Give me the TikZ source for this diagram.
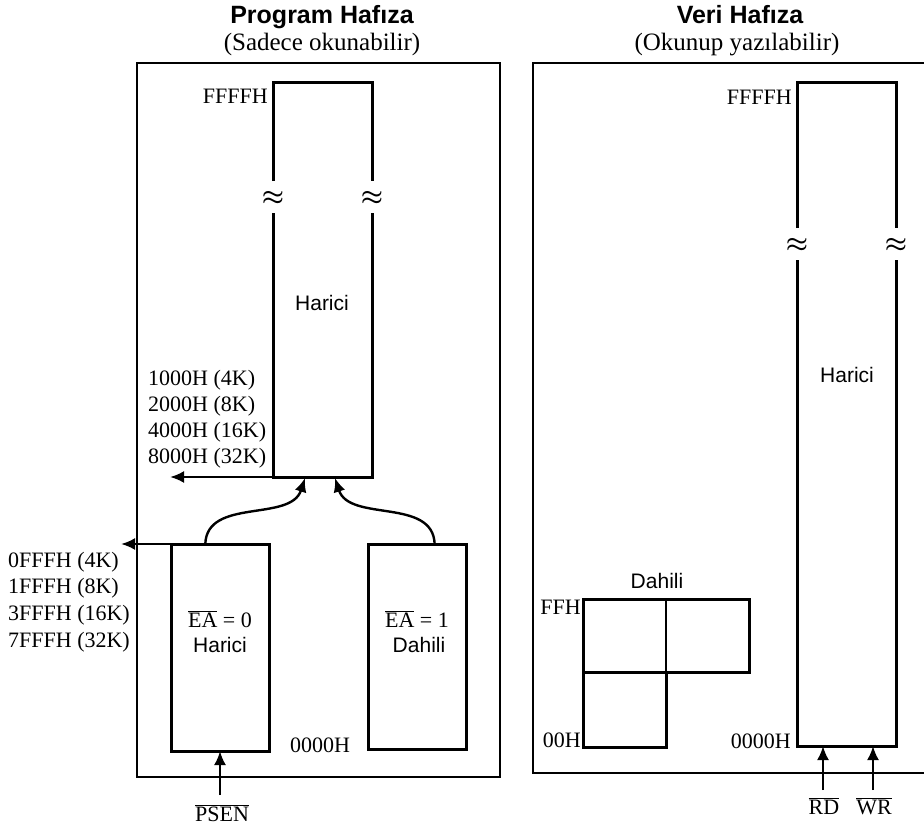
\documentclass[tikz,border=0pt]{standalone}
\usepackage{fontspec}
\setmainfont{Liberation Serif}
\newfontfamily\arialf{Liberation Sans}
\usetikzlibrary{arrows.meta,calc}
\newcommand\ovl[1]{$\overline{\hbox{#1}}$}
\begin{document}
\begin{tikzpicture}[x=1pt,y=-1pt,
  frame/.style={line width=1.4pt},
  membox/.style={draw,line width=3pt,inner sep=0pt,outer sep=0pt},
  memline/.style={line width=3pt},
  thinline/.style={line width=1.5pt},
  arr/.style={line width=2.4pt,-{Latex[length=14pt,width=12pt]}},
  ttl/.style={font=\arialf\bfseries\fontsize{25}{30}\selectfont,inner sep=0pt},
  subttl/.style={font=\fontsize{25}{30}\selectfont,inner sep=0pt},
  lbl/.style={font=\fontsize{22}{26}\selectfont,inner sep=0pt},
  slbl/.style={font=\arialf\fontsize{21}{25}\selectfont,inner sep=0pt},
  brk/.style={font=\fontsize{30}{30}\selectfont\boldmath,inner sep=0pt},
]
\useasboundingbox (0,0) rectangle (924,828);

% ---------- Program memory ----------
\node[ttl,anchor=base] (ptitle) at (322,23) {Program Hafıza};
\node[subttl,anchor=base] (psub) at (322,50) {(Sadece okunabilir)};
\draw[frame] (137,63) rectangle (500,777);

% upper external program memory (broken rectangle)
\coordinate (ptl) at (273,82);
\coordinate (ptr) at (372,82);
\coordinate (pbl) at (273,477);
\coordinate (pbr) at (372,477);
\coordinate (plb1) at (273,181);
\coordinate (prb1) at (372,181);
\coordinate (plb2) at (273,213);
\coordinate (prb2) at (372,213);
\draw[memline,line join=miter] (plb1) -- (ptl) -- (ptr) -- (prb1);
\draw[memline,line join=miter] (plb2) -- (pbl) -- (pbr) -- (prb2);
\node[brk] (pbrkL) at (273,198) {$\approx$};
\node[brk] (pbrkR) at (372,198) {$\approx$};
\node[lbl,anchor=base east] (pffff) at (268,103) {FFFFH};
\node[slbl,anchor=base] (pharici) at (322,310) {Harici};

\node[lbl,anchor=base west] (l1000) at (148,385) {1000H (4K)};
\node[lbl,anchor=base west] (l2000) at (148,411) {2000H (8K)};
\node[lbl,anchor=base west] (l4000) at (148,437) {4000H (16K)};
\node[lbl,anchor=base west] (l8000) at (148,463) {8000H (32K)};
\coordinate (tipA) at (170,477);
\draw[arr] (pbl) -- (tipA);

% lower boxes
\node[membox,minimum width=98pt,minimum height=207pt] (ea0) at (220,647.5) {};
\node[membox,minimum width=98pt,minimum height=205pt] (ea1) at (417,646.5) {};
\node[lbl,anchor=base] (ea0t) at (220,627) {\ovl{EA} = 0};
\node[slbl,anchor=base] (ea0h) at (220,652) {Harici};
\node[lbl,anchor=base] (ea1t) at (417,627) {\ovl{EA} = 1};
\node[slbl,anchor=base] (ea1d) at (419,652) {Dahili};
\node[lbl,anchor=base] (p0000) at (320,752) {0000H};

\coordinate (tipB) at (121,544);
\draw[arr] (ea0.north west) -- (tipB);
\node[lbl,anchor=base west] (l0fff) at (8,567) {0FFFH (4K)};
\node[lbl,anchor=base west] (l1fff) at (8,593) {1FFFH (8K)};
\node[lbl,anchor=base west] (l3fff) at (8,620) {3FFFH (16K)};
\node[lbl,anchor=base west] (l7fff) at (8,647) {7FFFH (32K)};

% curved selection arrows
\coordinate (c1s) at ($(ea0.north west)!0.35!(ea0.north east)$);
\coordinate (c1e) at (305,478);
\coordinate (c2s) at ($(ea1.north west)!0.68!(ea1.north east)$);
\coordinate (c2e) at (335,478);
\draw[arr] (c1s) to[out=88,in=-108] (c1e);
\draw[arr] (c2s) to[out=92,in=-72] (c2e);

% PSEN
\coordinate (psenT) at (220,795);
\draw[arr] (psenT) -- (ea0.south);
\node[lbl,anchor=base] (psen) at (222,821) {\ovl{PSEN}};

% ---------- Data memory ----------
\node[ttl,anchor=base] (dtitle) at (740,23) {Veri Hafıza};
\node[subttl,anchor=base] (dsub) at (737,50) {(Okunup yazılabilir)};
\draw[frame] (930,63) -- (533,63) -- (533,773) -- (930,773);

\coordinate (dtl) at (797,82);
\coordinate (dtr) at (896,82);
\coordinate (dbl) at (797,746);
\coordinate (dbr) at (896,746);
\coordinate (dlb1) at (797,228);
\coordinate (drb1) at (896,228);
\coordinate (dlb2) at (797,260);
\coordinate (drb2) at (896,260);
\draw[memline,line join=miter] (dlb1) -- (dtl) -- (dtr) -- (drb1);
\draw[memline,line join=miter] (dlb2) -- (dbl) -- (dbr) -- (drb2);
\node[brk] (dbrkL) at (797,245) {$\approx$};
\node[brk] (dbrkR) at (896,245) {$\approx$};
\node[lbl,anchor=base east] (dffff) at (792,104) {FFFFH};
\node[slbl,anchor=base] (dharici) at (847,382) {Harici};
\node[lbl,anchor=base east] (d0000) at (791,748) {0000H};

% internal data memory
\node[membox,minimum width=166pt,minimum height=73pt] (dh1) at (666,635.5) {};
\node[membox,minimum width=83pt,minimum height=75pt] (dh2) at (624.5,709.5) {};
\draw[thinline] (dh1.north) -- (dh1.south);
\node[slbl,anchor=base] (dahili) at (657,588) {Dahili};
\node[lbl,anchor=base east] (ffh) at (581,614) {FFH};
\node[lbl,anchor=base east] (h00) at (581,747) {00H};

% RD / WR
\coordinate (rdT) at (823,790);
\coordinate (rdB) at (823,746);
\coordinate (wrT) at (873,790);
\coordinate (wrB) at (873,746);
\draw[arr] (rdT) -- (rdB);
\draw[arr] (wrT) -- (wrB);
\node[lbl,anchor=base] (rd) at (824,814) {\ovl{RD}};
\node[lbl,anchor=base] (wr) at (874,814) {\ovl{WR}};
\end{tikzpicture}
\end{document}
